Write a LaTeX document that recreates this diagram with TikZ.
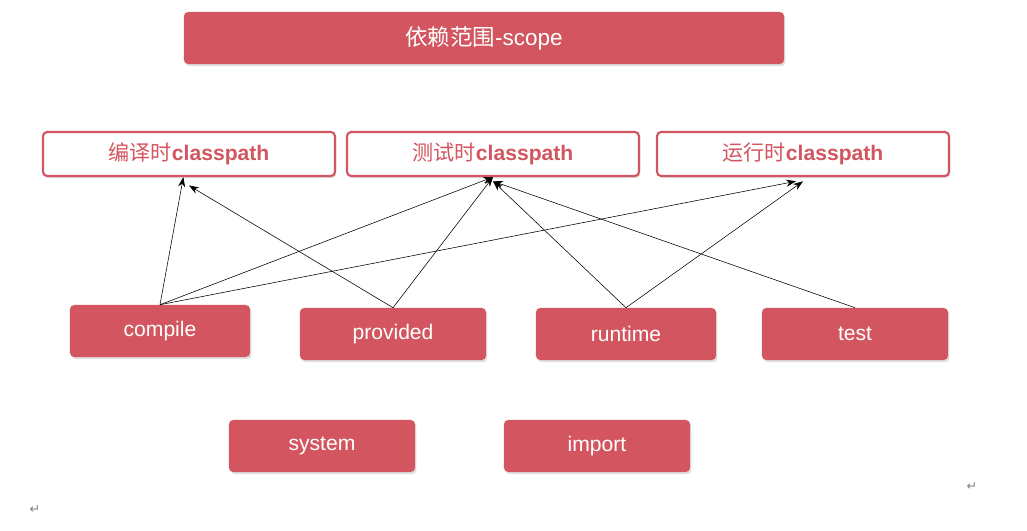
\documentclass[tikz,border=0pt]{standalone}
\usepackage{fontspec}
\setmainfont{Liberation Sans}
\newfontfamily\cjk{Noto Sans CJK SC}
\newfontfamily\sym{DejaVu Sans}
\usetikzlibrary{shadows,arrows.meta}
\definecolor{scopered}{RGB}{210,85,95}

\begin{document}
\begin{tikzpicture}[x=0.025cm,y=-0.025cm,
  scopebox/.style={fill=scopered, rounded corners=3pt, text=white, font=\fontsize{15}{15}\selectfont,
    minimum height=1.3cm, drop shadow={opacity=0.25,shadow xshift=1pt,shadow yshift=-1.5pt}},
  pathbox/.style={draw=scopered, line width=1.5pt, fill=white, rounded corners=3pt, text=scopered,
    font=\fontsize{15}{15}\selectfont, minimum width=7.3cm, minimum height=1.1cm,
    drop shadow={opacity=0.25,shadow xshift=1pt,shadow yshift=-1.5pt}},
  arrow/.style={-{Stealth[length=7pt,width=5pt]}, thin}
]
\useasboundingbox (0,0) rectangle (1027,531);

% title
\node[scopebox, minimum width=15cm, font=\fontsize{16}{16}\selectfont] (title) at (484,38) {{\cjk 依赖范围}-scope};

% classpath boxes
\node[pathbox] (compilecp) at (189,154) {{\cjk 编译时}\textbf{classpath}};
\node[pathbox] (testcp) at (493,154) {{\cjk 测试时}\textbf{classpath}};
\node[pathbox] (runcp) at (803,154) {{\cjk 运行时}\textbf{classpath}};

% scopes
\node[scopebox, minimum width=4.5cm] (compile) at (160,331) {compile};
\node[scopebox, minimum width=4.65cm] (provided) at (393,334) {provided};
\node[scopebox, minimum width=4.5cm] (runtime) at (626,334) {runtime};
\node[scopebox, minimum width=4.65cm] (test) at (855,334) {test};
\node[scopebox, minimum width=4.65cm] (system) at (322,446) {system};
\node[scopebox, minimum width=4.65cm] (import) at (597,446) {import};

% arrows
\draw[arrow] (compile.north) -- ([xshift=-4pt]compilecp.south);
\draw[arrow] (compile.north) -- (testcp.south);
\draw[arrow] (compile.north) -- ([xshift=-5pt,yshift=-3pt]runcp.south);
\draw[arrow] (provided.north) -- ([yshift=-6pt]compilecp.south);
\draw[arrow] (provided.north) -- (testcp.south);
\draw[arrow] (runtime.north) -- ([yshift=-3pt]testcp.south);
\draw[arrow] (runtime.north) -- ([yshift=-3pt]runcp.south);
\draw[arrow] (test.north) -- ([yshift=-3pt]testcp.south);

% paragraph marks
\node[text=gray, font=\sym\small] (mark1) at (35,510) {↵};
\node[text=gray, font=\sym\small] (mark2) at (972,487) {↵};
\end{tikzpicture}
\end{document}
